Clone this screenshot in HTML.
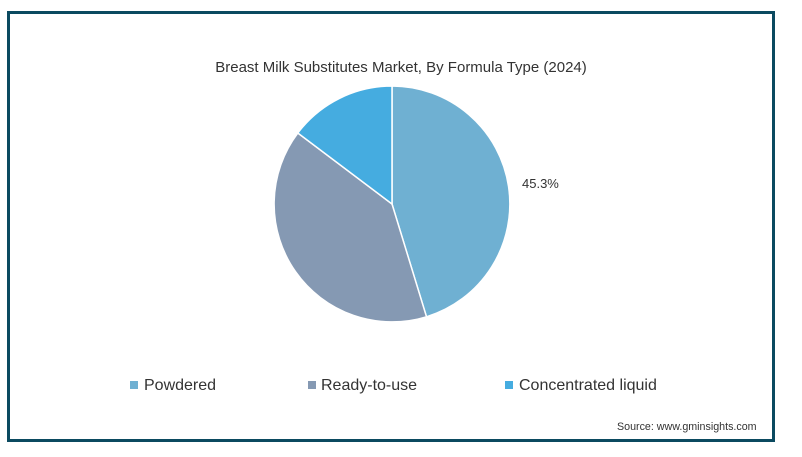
<!DOCTYPE html>
<html><head><meta charset="utf-8"><style>
html,body{margin:0;padding:0;background:#fff;}
body{width:802px;height:457px;position:relative;overflow:hidden;font-family:"Liberation Sans",sans-serif;}
.frame{position:absolute;left:7px;top:11px;width:762px;height:425px;border:3px solid #0b4a60;background:#fff;}
.t{position:absolute;color:#333;white-space:nowrap;}
.sq{position:absolute;width:8px;height:8px;}
</style></head><body>
<div class="frame"></div>
<div class="t" style="left:0;width:802px;text-align:center;top:59px;font-size:15px;">Breast Milk Substitutes Market, By Formula Type (2024)</div>
<svg style="position:absolute;left:0;top:0" width="802" height="457">
<path d="M392,204 L392,86 A118,118 0 0 1 426.5,316.8 Z" fill="#6fb0d2" stroke="#fff" stroke-width="1.5"/>
<path d="M392,204 L426.5,316.8 A118,118 0 0 1 297.8,133 Z" fill="#8599b3" stroke="#fff" stroke-width="1.5"/>
<path d="M392,204 L297.8,133 A118,118 0 0 1 392,86 Z" fill="#45ace0" stroke="#fff" stroke-width="1.5"/>
</svg>
<div class="t" style="left:522px;top:176px;font-size:13px;">45.3%</div>
<div class="sq" style="left:130px;top:381px;background:#6fb0d2"></div>
<div class="t" style="left:144px;top:377px;font-size:16px;">Powdered</div>
<div class="sq" style="left:308px;top:381px;background:#8599b3"></div>
<div class="t" style="left:321px;top:377px;font-size:16px;">Ready-to-use</div>
<div class="sq" style="left:505px;top:381px;background:#45ace0"></div>
<div class="t" style="left:519px;top:377px;font-size:16px;">Concentrated liquid</div>
<div class="t" style="left:617px;top:421px;font-size:10.7px;">Source: www.gminsights.com</div>
</body></html>
